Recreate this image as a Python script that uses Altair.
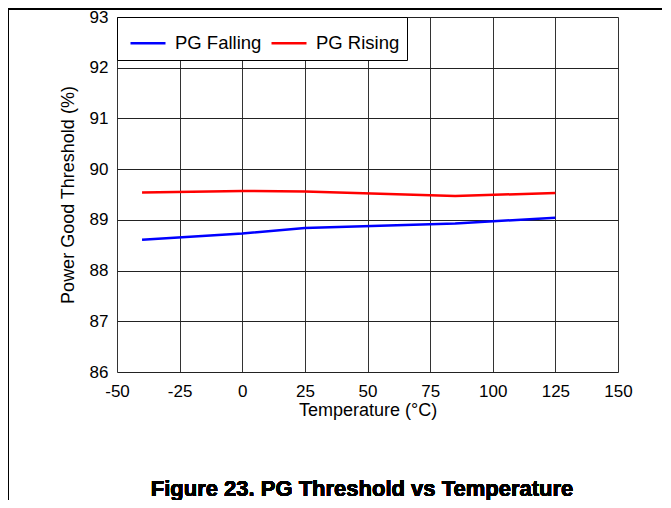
import altair as alt
import pandas as pd

temps = [-40, 0, 25, 85, 125]
pg_falling = [88.61, 88.73, 88.84, 88.93, 89.04]
pg_rising = [89.54, 89.57, 89.56, 89.47, 89.53]
series_names = ["PG Falling", "PG Rising"]
series_colors = ["#0000FF", "#FF0000"]
x_ticks = [-50, -25, 0, 25, 50, 75, 100, 125, 150]
y_ticks = [86, 87, 88, 89, 90, 91, 92, 93]
caption = "Figure 23. PG Threshold vs Temperature"

rows = []
for t, v in zip(temps, pg_falling):
    rows.append({"Temperature": t, "Threshold": v, "Series": series_names[0]})
for t, v in zip(temps, pg_rising):
    rows.append({"Temperature": t, "Threshold": v, "Series": series_names[1]})
df = pd.DataFrame(rows)

FONT = "Liberation Sans"

lines = alt.Chart(df).mark_line(strokeWidth=2.5).encode(
    x=alt.X("Temperature:Q",
            scale=alt.Scale(domain=[-50, 150], nice=False, zero=False),
            axis=alt.Axis(values=x_ticks, title="Temperature (°C)",
                          labelExpr="datum.value + ''",
                          grid=True, gridColor="#333333", gridWidth=1,
                          ticks=False, domain=False, labelPadding=11,
                          labelFontSize=17, titleFontSize=18, titlePadding=2,
                          labelFont=FONT, titleFont=FONT, titleFontWeight="normal",
                          labelColor="black", titleColor="black",
                          labelFlush=False)),
    y=alt.Y("Threshold:Q",
            scale=alt.Scale(domain=[86, 93], nice=False, zero=False),
            axis=alt.Axis(values=y_ticks, title="Power Good Threshold (%)",
                          labelExpr="datum.value + ''",
                          grid=True, gridColor="#222222", gridWidth=1,
                          ticks=False, domain=False, labelPadding=9,
                          labelFontSize=17, titleFontSize=18, titlePadding=12,
                          labelFont=FONT, titleFont=FONT, titleFontWeight="normal",
                          labelColor="black", titleColor="black",
                          labelFlush=False)),
    color=alt.Color("Series:N",
                    scale=alt.Scale(domain=series_names, range=series_colors),
                    legend=alt.Legend(title=None, orient="none", legendX=0, legendY=0,
                                      direction="horizontal", symbolType="stroke",
                                      symbolSize=1225, symbolStrokeWidth=2.5,
                                      symbolOffset=5,
                                      labelFontSize=18.5, labelFont=FONT,
                                      labelColor="black", fillColor="white",
                                      strokeColor="black",
                                      padding=7, columnPadding=3, labelOffset=8)),
)

frame_top = alt.Chart(df).mark_rule(color="black", strokeWidth=1.5).encode(
    x=alt.value(-109), x2=alt.value(546), y=alt.value(-8))
frame_left = alt.Chart(df).mark_rule(color="black", strokeWidth=1.5).encode(
    x=alt.value(-109), y=alt.value(-9), y2=alt.value(483))
title_text = alt.Chart(df).mark_text(
    fontSize=22, fontWeight="bold", font=FONT, color="black",
    align="center", baseline="middle").encode(
    x=alt.value(245), y=alt.value(472), text=alt.value(caption))

chart = alt.layer(lines, frame_top, frame_left, title_text).properties(
    width=501, height=355,
    autosize=alt.AutoSizeParams(type="none"),
    padding={"left": 109, "top": 9, "right": 44, "bottom": 128},
).configure_view(stroke="black", strokeWidth=3).configure_legend(
    strokeWidth=2.5).configure(background="white")

chart.save("out.html", embed_options={"renderer": "svg", "actions": False})
